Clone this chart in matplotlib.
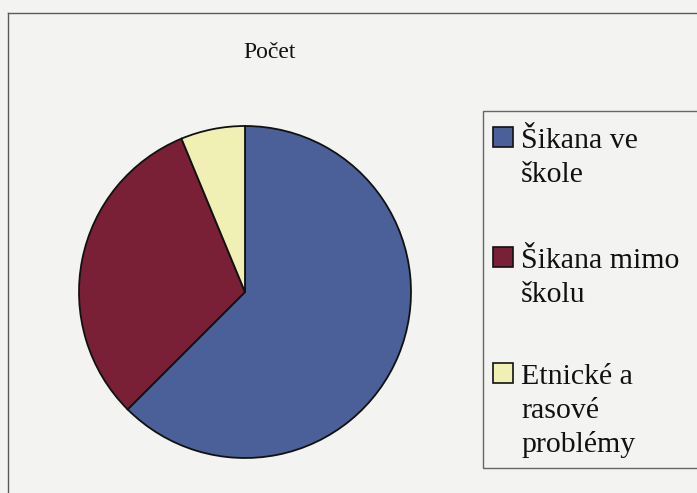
import matplotlib
matplotlib.use("Agg")
import matplotlib.pyplot as plt
from matplotlib.patches import Rectangle
from matplotlib.lines import Line2D

# Data
title = "Počet"
categories = ["Šikana ve\nškole", "Šikana mimo\nškolu", "Etnické a\nrasové\nproblémy"]
values = [20, 10, 2]
colors = ["#4B5F98", "#7A2036", "#F1F0B4"]

W, H = 697, 493
fig = plt.figure(figsize=(W / 100, H / 100), dpi=100)
fig.patch.set_facecolor("#F3F3F1")
plt.rcParams["font.family"] = ["Liberation Serif", "DejaVu Serif"]


def fx(x):
    return x / W


def fy(y):
    return 1 - y / H


# outer chart frame (extends beyond the visible crop)
fig.add_artist(Line2D([fx(8), fx(8)], [fy(13), fy(500)], color="#5a5a5a", lw=1.0, transform=fig.transFigure))
fig.add_artist(Line2D([fx(8), fx(700)], [fy(13), fy(13)], color="#5a5a5a", lw=1.0, transform=fig.transFigure))

# title
fig.text(fx(270), fy(58), title, ha="center", va="baseline", fontsize=17, color="#111111")

# pie
cx, cy, r = 245, 292, 166
ax = fig.add_axes([fx(cx - r), fy(cy + r), 2 * r / W, 2 * r / H])
ax.pie(values, colors=colors, startangle=90, counterclock=False,
       wedgeprops=dict(edgecolor="#111111", linewidth=1.3))
ax.set_xlim(-1.0, 1.0)
ax.set_ylim(-1.0, 1.0)
ax.set_aspect("auto")
ax.axis("off")

# legend box
fig.add_artist(Rectangle((fx(483), fy(468)), fx(700) - fx(483), fy(111) - fy(468),
                         transform=fig.transFigure, facecolor="none", edgecolor="#666666", lw=1.0))

first_baselines = [148, 268, 384]
line_step = 34
for cat, col, b in zip(categories, colors, first_baselines):
    sq = 20
    fig.add_artist(Rectangle((fx(493), fy(b - 1)), sq / W, sq / H, transform=fig.transFigure,
                             facecolor=col, edgecolor="#111111", lw=1.2))
    for i, line in enumerate(cat.split("\n")):
        fig.text(fx(521), fy(b + i * line_step), line, ha="left", va="baseline",
                 fontsize=21.5, color="#111111")

fig.savefig("out.png", dpi=100, facecolor=fig.get_facecolor())
